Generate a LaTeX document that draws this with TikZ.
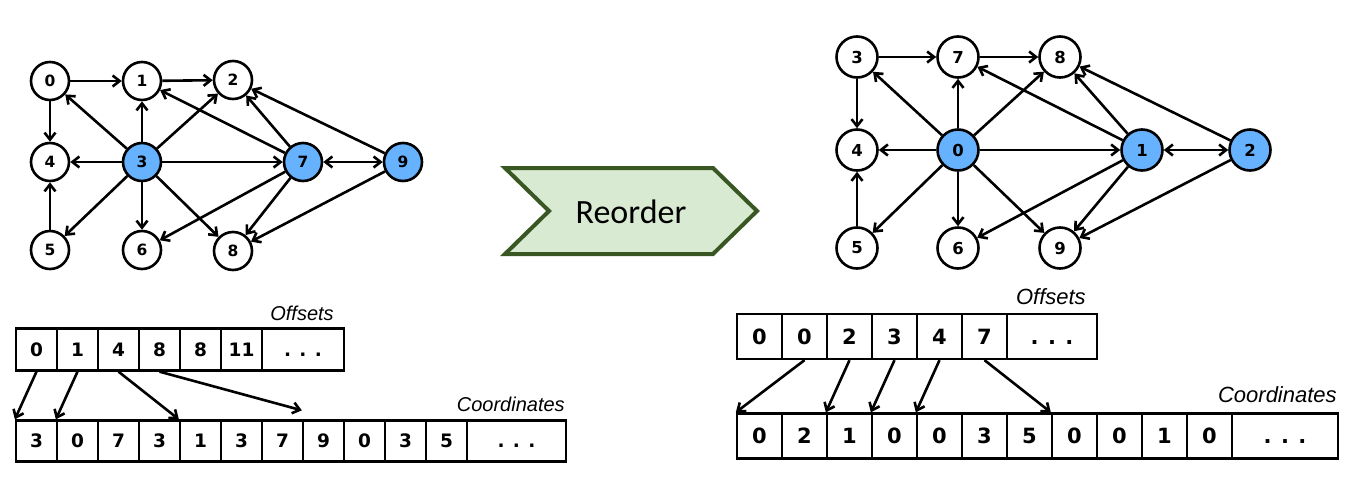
\documentclass[tikz,border=0pt]{standalone}
\usepackage{fontspec}
\usepackage{tikz}
\usetikzlibrary{arrows.meta}

\newfontfamily\digits{DejaVu Sans}
\newfontfamily\arial{Liberation Sans}
\newfontfamily\calib{Carlito}
\newcommand{\gap}{\hspace{0.45em}}
\newcommand{\dotsbox}{\vphantom{0}.\gap.\gap.}

\definecolor{hubblue}{RGB}{102,178,255}
\definecolor{chevfill}{RGB}{217,234,211}
\definecolor{chevline}{RGB}{56,87,35}

\begin{document}
\begin{tikzpicture}[x = 1pt, y = -1pt, line width = 2.6pt,
                      >={Straight Barb[length=7pt, width=11pt]},
                      vert/.style = {circle, draw, fill = white, inner sep = 0},
                      hub/.style = {vert, fill = hubblue},
                      lsz/.style = {minimum size = 38, font = \digits\bfseries\fontsize{15.5}{15.5}\selectfont},
                      rsz/.style = {minimum size = 41, font = \digits\bfseries\fontsize{16.5}{16.5}\selectfont},
                      lcell/.style = {draw, line width = 2.3pt, inner sep = 0, minimum width = 41, minimum height = 42,
                                      font = \digits\bfseries\fontsize{18.5}{18.5}\selectfont},
                      rcell/.style = {draw, line width = 2.3pt, inner sep = 0, minimum width = 45, minimum height = 45,
                                      font = \digits\bfseries\fontsize{21}{21}\selectfont},
                      tag/.style = {anchor = east, inner sep = 0, font = \arial\itshape\fontsize{20}{20}\selectfont}]
    \useasboundingbox (0, 0) rectangle (1349, 485);

    % graph before reordering
    \node [vert, lsz] (l0) at (50, 81){0};
    \node [vert, lsz] (l1) at (142, 81){1};
    \node [vert, lsz] (l2) at (233, 80){2};
    \node [hub, lsz] (l3) at (142, 162){3};
    \node [vert, lsz] (l4) at (50, 162){4};
    \node [vert, lsz] (l5) at (50, 250){5};
    \node [vert, lsz] (l6) at (142, 250){6};
    \node [hub, lsz] (l7) at (303, 162){7};
    \node [vert, lsz] (l8) at (233, 251){8};
    \node [hub, lsz] (l9) at (403, 162){9};
    \draw [->] (l0) -- (l1);
    \draw [->] (l1) -- (l2);
    \draw [->] (l0) -- (l4);
    \draw [->] (l5) -- (l4);
    \draw [->] (l3) -- (l0);
    \draw [->] (l3) -- (l1);
    \draw [->] (l3) -- (l2);
    \draw [->] (l3) -- (l4);
    \draw [->] (l3) -- (l5);
    \draw [->] (l3) -- (l6);
    \draw [->] (l3) -- (l8);
    \draw [->] (l3) -- (l7);
    \draw [->] (l7) -- (l1);
    \draw [->] (l7) -- (l2);
    \draw [->] (l7) -- (l6);
    \draw [->] (l7) -- (l8);
    \draw [<->] (l7) -- (l9);
    \draw [->] (l9) -- (l2);
    \draw [->] (l9) -- (l8);

    % arrays before reordering
    \node [tag] (loff) at (335, 313){Offsets};
    \node [lcell] (lo0) at (36.5, 349.5){0};
    \node [lcell] (lo1) at (77.5, 349.5){1};
    \node [lcell] (lo2) at (118.5, 349.5){4};
    \node [lcell] (lo3) at (159.5, 349.5){8};
    \node [lcell] (lo4) at (200.5, 349.5){8};
    \node [lcell] (lo5) at (241.5, 349.5){11};
    \node [lcell, minimum width = 82] (lo6) at (303, 349.5){\dotsbox};
    \node [tag] (lcoo) at (566, 404){Coordinates};
    \node [lcell, minimum height = 41] (lc0) at (36.5, 441){3};
    \node [lcell, minimum height = 41] (lc1) at (77.5, 441){0};
    \node [lcell, minimum height = 41] (lc2) at (118.5, 441){7};
    \node [lcell, minimum height = 41] (lc3) at (159.5, 441){3};
    \node [lcell, minimum height = 41] (lc4) at (200.5, 441){1};
    \node [lcell, minimum height = 41] (lc5) at (241.5, 441){3};
    \node [lcell, minimum height = 41] (lc6) at (282.5, 441){7};
    \node [lcell, minimum height = 41] (lc7) at (323.5, 441){9};
    \node [lcell, minimum height = 41] (lc8) at (364.5, 441){0};
    \node [lcell, minimum height = 41] (lc9) at (405.5, 441){3};
    \node [lcell, minimum height = 41] (lc10) at (446.5, 441){5};
    \node [lcell, minimum height = 41, minimum width = 99] (lc11) at (516.5, 441){\dotsbox};
    \coordinate (lend) at ([yshift=9pt]lc7.north west);
    \draw [->] (lo0.south) -- (lc0.north west);
    \draw [->] (lo1.south) -- (lc1.north west);
    \draw [->] (lo2.south) -- (lc4.north west);
    \draw [->] (lo3.south) -- (lend);

    % reorder chevron
    \draw [line width = 4pt, line join = miter, draw = chevline, fill = chevfill]
        (505, 168) -- (713, 168) -- (757, 211) -- (713, 254) -- (505, 254) -- (549, 211) -- cycle;
    \node [font = \calib\fontsize{34}{34}\selectfont] (reorder) at (631, 212){Reorder};

    % graph after reordering
    \node [vert, rsz] (r3) at (857, 57){3};
    \node [vert, rsz] (r7) at (958, 57){7};
    \node [vert, rsz] (r8) at (1060, 57){8};
    \node [vert, rsz] (r4) at (857, 150){4};
    \node [hub, rsz] (r0) at (958, 150){0};
    \node [hub, rsz] (r1) at (1142, 150){1};
    \node [hub, rsz] (r2) at (1250, 150){2};
    \node [vert, rsz] (r5) at (857, 248){5};
    \node [vert, rsz] (r6) at (958, 248){6};
    \node [vert, rsz] (r9) at (1060, 248){9};
    \draw [->] (r3) -- (r7);
    \draw [->] (r7) -- (r8);
    \draw [->] (r3) -- (r4);
    \draw [->] (r5) -- (r4);
    \draw [->] (r0) -- (r3);
    \draw [->] (r0) -- (r7);
    \draw [->] (r0) -- (r8);
    \draw [->] (r0) -- (r4);
    \draw [->] (r0) -- (r5);
    \draw [->] (r0) -- (r6);
    \draw [->] (r0) -- (r9);
    \draw [->] (r0) -- (r1);
    \draw [->] (r1) -- (r7);
    \draw [->] (r1) -- (r8);
    \draw [->] (r1) -- (r6);
    \draw [->] (r1) -- (r9);
    \draw [<->] (r1) -- (r2);
    \draw [->] (r2) -- (r8);
    \draw [->] (r2) -- (r9);

    % arrays after reordering
    \node [tag, font = \arial\itshape\fontsize{22}{22}\selectfont] (roff) at (1087, 297){Offsets};
    \node [rcell] (ro0) at (759.5, 336.5){0};
    \node [rcell] (ro1) at (804.5, 336.5){0};
    \node [rcell] (ro2) at (849.5, 336.5){2};
    \node [rcell] (ro3) at (894.5, 336.5){3};
    \node [rcell] (ro4) at (939.5, 336.5){4};
    \node [rcell] (ro5) at (984.5, 336.5){7};
    \node [rcell, minimum width = 90] (ro6) at (1052, 336.5){\dotsbox};
    \node [tag, font = \arial\itshape\fontsize{22}{22}\selectfont] (rcoo) at (1338, 395){Coordinates};
    \node [rcell] (rc0) at (759.5, 436){0};
    \node [rcell] (rc1) at (804.5, 436){2};
    \node [rcell] (rc2) at (849.5, 436){1};
    \node [rcell] (rc3) at (894.5, 436){0};
    \node [rcell] (rc4) at (939.5, 436){0};
    \node [rcell] (rc5) at (984.5, 436){3};
    \node [rcell] (rc6) at (1029.5, 436){5};
    \node [rcell] (rc7) at (1074.5, 436){0};
    \node [rcell] (rc8) at (1119.5, 436){0};
    \node [rcell] (rc9) at (1164.5, 436){1};
    \node [rcell] (rc10) at (1209.5, 436){0};
    \node [rcell, minimum width = 106] (rc11) at (1285, 436){\dotsbox};
    \draw [->] (ro1.south) -- (rc0.north west);
    \draw [->] (ro2.south) -- (rc2.north west);
    \draw [->] (ro3.south) -- (rc3.north west);
    \draw [->] (ro4.south) -- (rc4.north west);
    \draw [->] (ro5.south) -- (rc7.north west);
\end{tikzpicture}
\end{document}
